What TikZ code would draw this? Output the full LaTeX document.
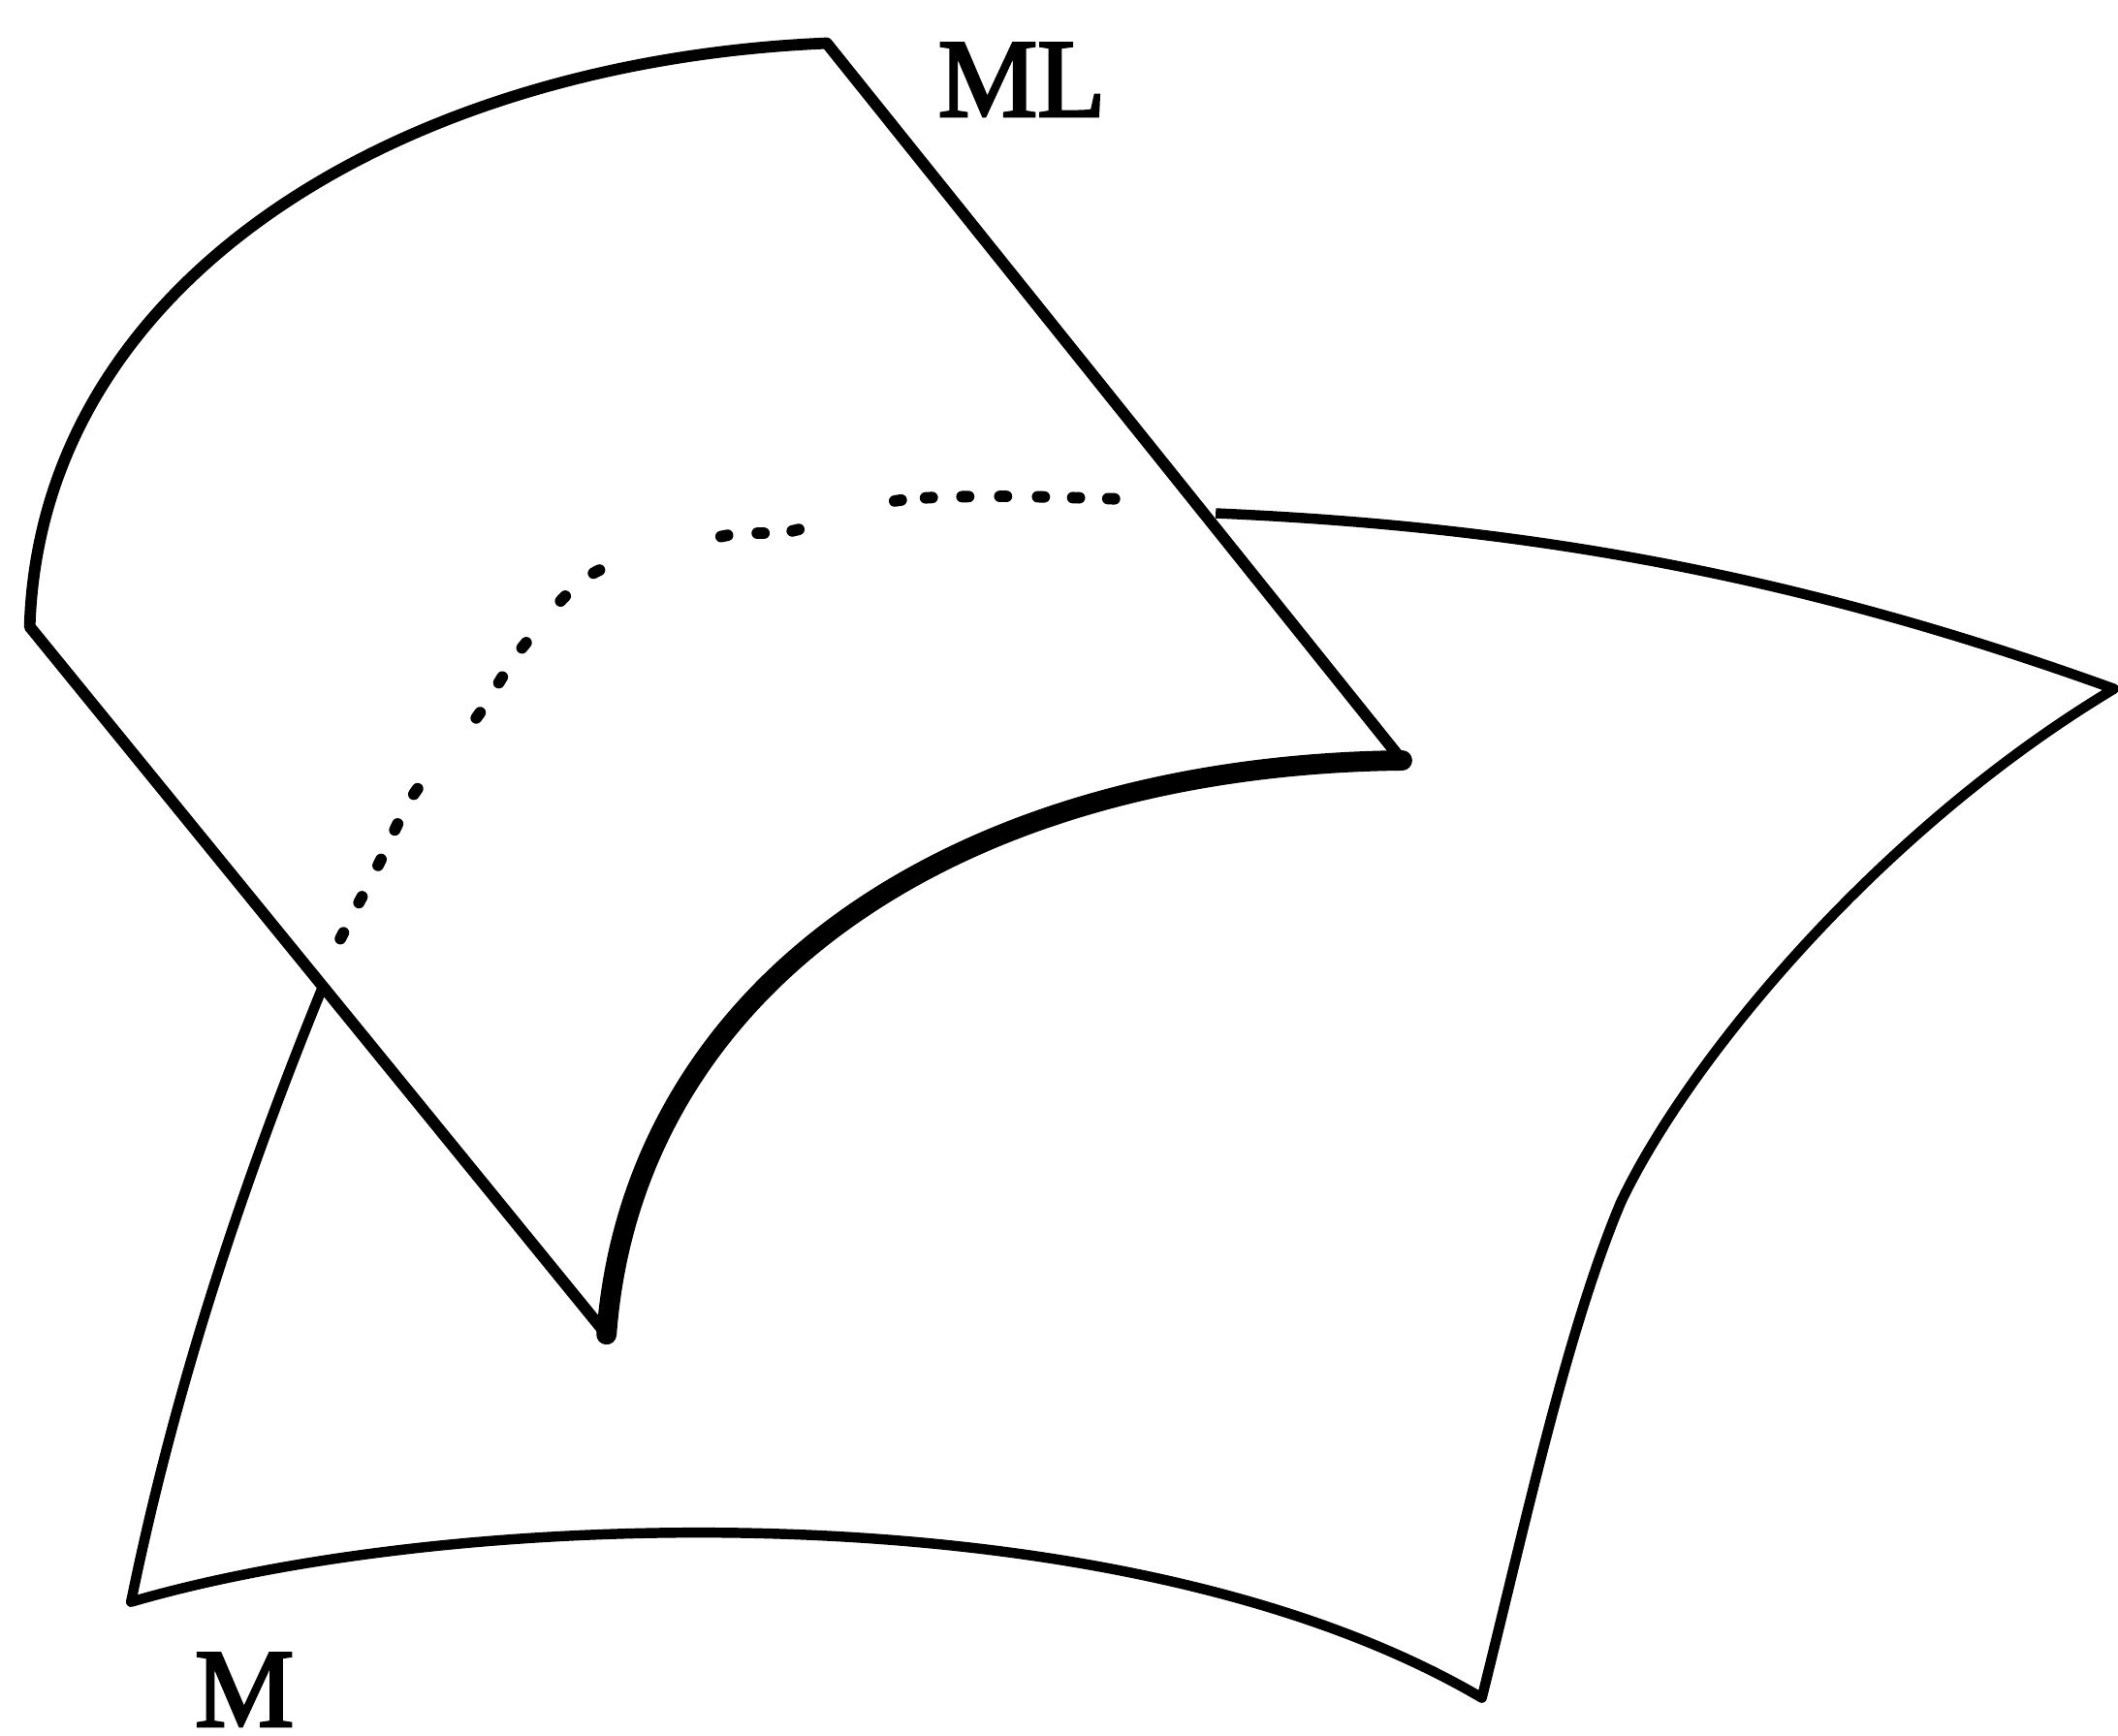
\documentclass[tikz,border=0pt]{standalone}
\usepackage{fontspec}
\newfontfamily\labelfont[FakeBold=2.5]{Liberation Serif}
\usetikzlibrary{positioning}

\begin{document}
\begin{tikzpicture}[
    every node/.style={font=\labelfont\fontsize{23.5}{26}\selectfont, inner sep=0pt, anchor=base},
    edge/.style={draw, line width=0.075cm, line join=round},
    fold/.style={draw, line width=0.085cm, line join=round},
    crease/.style={draw, line width=0.15cm, line cap=round},
    hidden/.style={draw, line width=0.085cm, line cap=round},
  ]
  \useasboundingbox (0,0) rectangle (15.68,12.85);
  % corners of the two sheets
  \coordinate (top) at (6.12,12.53);
  \coordinate (left) at (0.22,8.21);
  \coordinate (tipa) at (4.49,2.97);
  \coordinate (tipb) at (10.38,7.22);
  \coordinate (backa) at (2.40,5.57);
  \coordinate (backb) at (9.00,9.05);
  \coordinate (right) at (15.65,7.75);
  \coordinate (lowr) at (10.97,0.28);
  \coordinate (lowl) at (0.97,0.99);
  \coordinate (bend) at (12.00,3.95);

  % lower sheet
  \draw[edge] (backb) .. controls (11.3,8.95) and (13.3,8.6) .. (right)
    .. controls (13.9,6.7) and (12.5,5.0) .. (bend)
    .. controls (11.6,3.0) and (11.3,1.6) .. (lowr)
    .. controls (8.3,1.85) and (3.4,1.7) .. (lowl)
    .. controls (1.3,2.6) and (1.8,4.1) .. (backa);

  % upper sheet
  \draw[fold] (tipb) -- (top)
    .. controls (3.0,12.4) and (0.3,10.8) .. (left)
    -- (tipa);
  \draw[crease] (tipa) .. controls (4.68,5.5) and (7.0,7.18) .. (tipb);

  % hidden part of the curve
  \draw[hidden, dash pattern=on .05cm off .25cm on .05cm off .26cm on .05cm off .24cm
      on .05cm off .25cm on .05cm off .68cm on .05cm off .26cm on .05cm off .26cm
      on .05cm off .40cm on .05cm off .27cm on .05cm off .935cm on .05cm off .22cm
      on .05cm off .21cm on .05cm off .74cm on .05cm off .18cm on .05cm off .22cm
      on .05cm off .23cm on .05cm off .23cm on .05cm off .21cm on .05cm off .21cm
      on .05cm off 5cm]
    plot[smooth] coordinates {(2.52,5.90) (2.80,6.445) (3.07,6.98) (3.53,7.54)
      (3.87,8.06) (4.40,8.61) (5.35,8.88) (5.87,8.92) (6.62,9.14) (7.39,9.175) (8.30,9.155)};

  \node (labelml) at (7.565,11.99) {ML};
  \node (labelm) at (1.81,0.07) {M};
\end{tikzpicture}
\end{document}
